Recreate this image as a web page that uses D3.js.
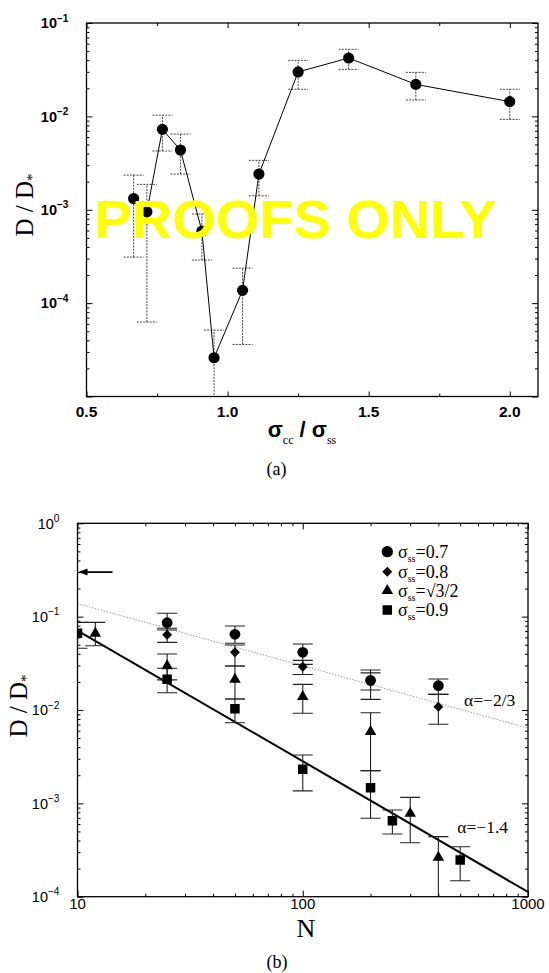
<!DOCTYPE html>
<html>
<head>
<meta charset="utf-8">
<script src="https://cdn.jsdelivr.net/npm/d3@7"></script>
<style>
  body { margin: 0; background: #fff; }
  svg { display: block; }
</style>
</head>
<body>
<svg id="fig" width="549" height="973"></svg>
<script>
// ---------- Panel (a): D/D* against the size ratio sigma_cc / sigma_ss ----------
const ratioA     = [0.667, 0.714, 0.769, 0.833, 0.909, 0.952, 1.053, 1.111, 1.25, 1.429, 1.667, 2.0];
const diffA      = [1.32e-3, 9.5e-4, 7.26e-3, 4.36e-3, 5.9e-4, 2.6e-5, 1.37e-4, 2.41e-3, 2.99e-2, 4.22e-2, 2.2e-2, 1.44e-2];
const diffAHigh  = [2.35e-3, 1.87e-3, 1.03e-2, 6.47e-3, 9.0e-4, 5.14e-5, 2.37e-4, 3.38e-3, 3.98e-2, 5.23e-2, 2.96e-2, 1.95e-2];
const diffALow   = [3.11e-4, 6.27e-5, 4.26e-3, 2.41e-3, 2.89e-4, 6e-6, 3.61e-5, 1.41e-3, 1.95e-2, 3.19e-2, 1.5e-2, 9.29e-3];
const ratioTicks      = [0.5, 1.0, 1.5, 2.0];
const ratioMinorTicks = [0.75, 1.25, 1.75];
const ratioTickLabels = ["0.5", "1.0", "1.5", "2.0"];
const decadeLabelsA   = [-1, -2, -3, -4];

// ---------- Panel (b): D/D* against system size N ----------
const nCircle   = [25, 50, 100, 200, 400];          // sigma_ss = 0.7
const dCircle   = [0.0861, 0.0647, 0.0415, 0.0208, 0.0182];
const loCircle  = [0.072, 0.0519, 0.0308, 0.0164, 0.0147];
const hiCircle  = [0.1086, 0.0794, 0.0509, 0.0268, 0.0215];

const nDiamond  = [25, 50, 100, 200, 400];          // sigma_ss = 0.8
const dDiamond  = [0.064, 0.0415, 0.0291, 0.0200, 0.01085];
const loDiamond = [0.053, 0.0296, 0.024, 0.013, 0.00703];
const hiDiamond = [0.075, 0.0497, 0.034, 0.025, 0.0147];

const nTriangle  = [12, 25, 50, 100, 200, 300, 400];   // sigma_ss = sqrt(3)/2
const dTriangle  = [0.0663, 0.0296, 0.0213, 0.0139, 0.00586, 0.000782, 0.000264];
const loTriangle = [0.0488, 0.021, 0.0131, 0.00922, 0.00224, 0.000379, 5e-5];
const hiTriangle = [0.0869, 0.0398, 0.0296, 0.0188, 0.00936, 0.00116, 0.00044];

const nSquare   = [10, 25, 50, 100, 200, 250, 500];    // sigma_ss = 0.9
const dSquare   = [0.0663, 0.0213, 0.0103, 0.00232, 0.00147, 0.000652, 0.000247];
const loSquare  = [0.0459, 0.0153, 0.00731, 0.00136, 0.000692, 0.00047, 0.000148];
const hiSquare  = [0.0869, 0.028, 0.0131, 0.0033, 0.00224, 0.000849, 0.000343];

const legendValues = ["0.7", "0.8", "\u221A3/2", "0.9"];
const legendShapes = ["circle", "diamond", "triangle", "square"];

// power-law guides D = D(10) * (N/10)^alpha
const fitAlpha     = [-1.4, -2 / 3];
const fitAt10      = [0.071, 0.138];
const fitLabels    = ["\u03B1=\u22121.4", "\u03B1=\u22122/3"];
const arrowLevel   = 0.3;
const arrowTailN   = 14.3;
const sizeTicks    = [10, 100, 1000];
const sizeTickLabels = ["10", "100", "1000"];
const decadeLabelsB = [0, -1, -2, -3, -4];

// ---------------------------------------------------------------
const svg = d3.select("#fig");
svg.append("rect").attr("width", 549).attr("height", 973).attr("fill", "#fff");

const SANS = "'Liberation Sans', Arial, Helvetica, sans-serif";
const SERIF = "'Liberation Serif', 'Times New Roman', serif";

const xA = d3.scaleLinear().domain([0.5, 2.1]).range([86.5, 538]);
const yA = d3.scaleLog().domain([1e-5, 1e-1]).range([396.5, 23]);
const xB = d3.scaleLog().domain([10, 1000]).range([77.5, 528]);
const yB = d3.scaleLog().domain([1e-4, 1]).range([896.7, 523.3]);

function logMajors(scale) {
  const [a, b] = scale.domain();
  const lo = Math.round(Math.log10(a)), hi = Math.round(Math.log10(b));
  return d3.range(lo, hi + 1).map(e => Math.pow(10, e));
}
function logMinors(scale) {
  const [a, b] = scale.domain();
  const lo = Math.round(Math.log10(a)), hi = Math.round(Math.log10(b));
  const out = [];
  for (let e = lo; e < hi; e++) for (let k = 2; k <= 9; k++) out.push(k * Math.pow(10, e));
  return out;
}

function drawFrame(g, x, y, xMaj, xMin, yMaj, yMin, xMajLen, yMajLen) {
  const [x0, x1] = x.range();
  const [y0, y1] = y.range();
  const add = (axis, t) => g.append("g").attr("transform", t).call(axis)
    .call(s => s.select(".domain").remove())
    .call(s => s.selectAll("line").attr("stroke", "#000").attr("stroke-width", 1));
  add(d3.axisBottom(x).tickValues(xMaj).tickSize(-xMajLen).tickFormat(""), `translate(0,${y0})`);
  add(d3.axisBottom(x).tickValues(xMin).tickSize(-3).tickFormat(""), `translate(0,${y0})`);
  add(d3.axisTop(x).tickValues(xMaj).tickSize(-xMajLen).tickFormat(""), `translate(0,${y1})`);
  add(d3.axisTop(x).tickValues(xMin).tickSize(-3).tickFormat(""), `translate(0,${y1})`);
  add(d3.axisLeft(y).tickValues(yMaj).tickSize(-yMajLen).tickFormat(""), `translate(${x0},0)`);
  add(d3.axisLeft(y).tickValues(yMin).tickSize(-3).tickFormat(""), `translate(${x0},0)`);
  add(d3.axisRight(y).tickValues(yMaj).tickSize(-yMajLen).tickFormat(""), `translate(${x1},0)`);
  add(d3.axisRight(y).tickValues(yMin).tickSize(-3).tickFormat(""), `translate(${x1},0)`);
  g.append("rect").attr("x", x0).attr("y", y1).attr("width", x1 - x0).attr("height", y0 - y1)
    .attr("fill", "none").attr("stroke", "#000").attr("stroke-width", 1.3);
}

function decadeLabels(g, y, exps, xRight, size, weight) {
  exps.forEach(e => {
    const t = g.append("text").attr("x", xRight).attr("y", y(Math.pow(10, e)) + size * 0.36)
      .attr("text-anchor", "end").attr("font-family", SANS).attr("font-size", size)
      .attr("font-weight", weight).attr("fill", "#000");
    t.append("tspan").text("10");
    t.append("tspan").attr("dy", -6.5).attr("font-size", size * 0.7)
      .text(e === 0 ? "0" : "\u2212" + (-e));
  });
}

function yTitle(g, cx, cy) {
  const t = g.append("text").attr("transform", `translate(${cx},${cy}) rotate(-90)`)
    .attr("text-anchor", "middle").attr("font-family", SERIF).attr("font-size", 25).attr("fill", "#000");
  t.append("tspan").text("D / D");
  t.append("tspan").attr("dy", 4).attr("font-size", 15).text("*");
}

// ================= Panel (a) =================
const gA = svg.append("g");
svg.append("clipPath").attr("id", "clipA").append("rect")
  .attr("x", 86.5).attr("y", 23).attr("width", 538 - 86.5).attr("height", 396.5 - 23);

drawFrame(gA, xA, yA, ratioTicks, ratioMinorTicks, logMajors(yA), logMinors(yA), 5, 6);

const ptsA = ratioA.map((r, i) => ({ x: r, d: diffA[i], lo: diffALow[i], hi: diffAHigh[i] }));
const plotA = gA.append("g").attr("clip-path", "url(#clipA)");

// dotted error bars
const ebA = plotA.append("g").attr("stroke", "#444").attr("stroke-width", 1).attr("stroke-dasharray", "2,1.2");
ptsA.forEach(p => {
  const cx = xA(p.x);
  ebA.append("line").attr("x1", cx).attr("x2", cx).attr("y1", yA(p.lo)).attr("y2", yA(p.hi));
  [p.lo, p.hi].forEach(v => ebA.append("line").attr("x1", cx - 10).attr("x2", cx + 10)
    .attr("y1", yA(v)).attr("y2", yA(v)));
});

plotA.append("path").datum(ptsA)
  .attr("d", d3.line().x(p => xA(p.x)).y(p => yA(p.d)))
  .attr("fill", "none").attr("stroke", "#000").attr("stroke-width", 1);

plotA.selectAll("circle.pt").data(ptsA).join("circle").attr("class", "pt")
  .attr("cx", p => xA(p.x)).attr("cy", p => yA(p.d)).attr("r", 5.6).attr("fill", "#000");

// tick labels
ratioTicks.forEach((v, i) => gA.append("text").attr("x", xA(v)).attr("y", 416.5)
  .attr("text-anchor", "middle").attr("font-family", SANS).attr("font-size", 15.5)
  .attr("font-weight", "bold").text(ratioTickLabels[i]));
decadeLabels(gA, yA, decadeLabelsA, 68.5, 14.5, "bold");

// axis titles
const xtA = gA.append("text").attr("x", 302).attr("y", 437).attr("text-anchor", "middle")
  .attr("font-family", SANS).attr("font-size", 22).attr("font-weight", "bold");
xtA.append("tspan").text("\u03C3");
xtA.append("tspan").attr("dy", 7).attr("font-family", SERIF).attr("font-weight", "normal").attr("font-size", 12).text("cc");
xtA.append("tspan").attr("dy", -7).text(" / \u03C3");
xtA.append("tspan").attr("dy", 7).attr("font-family", SERIF).attr("font-weight", "normal").attr("font-size", 12).text("ss");
yTitle(gA, 33, 205);

gA.append("text").attr("x", 276.5).attr("y", 475).attr("text-anchor", "middle")
  .attr("font-family", SERIF).attr("font-size", 18).text("(a)");

// watermark across panel (a)
gA.append("text").attr("x", 94.5).attr("y", 238.3)
  .attr("font-family", SANS).attr("font-size", 53).attr("font-weight", "bold")
  .attr("fill", "#ffff00").attr("textLength", 402).attr("lengthAdjust", "spacingAndGlyphs")
  .text("PROOFS ONLY");

// ================= Panel (b) =================
const gB = svg.append("g");
svg.append("clipPath").attr("id", "clipB").append("rect")
  .attr("x", 77.5).attr("y", 523.3).attr("width", 528 - 77.5).attr("height", 896.7 - 523.3);

const sizeMinor = logMinors(xB);
drawFrame(gB, xB, yB, sizeTicks, sizeMinor, logMajors(yB), logMinors(yB), 6, 6);

const plotB = gB.append("g").attr("clip-path", "url(#clipB)");

// power-law guide lines
const guideN = [10, 1000];
fitAlpha.forEach((a, i) => {
  const pts = guideN.map(n => [xB(n), yB(fitAt10[i] * Math.pow(n / 10, a))]);
  const path = plotB.append("path").attr("d", d3.line()(pts)).attr("fill", "none");
  if (i === 0) path.attr("stroke", "#000").attr("stroke-width", 2);
  else path.attr("stroke", "#999").attr("stroke-width", 1).attr("stroke-dasharray", "1.5,1.5");
});

const seriesB = [
  { shape: "circle",   n: nCircle,   d: dCircle,   lo: loCircle,   hi: hiCircle },
  { shape: "diamond",  n: nDiamond,  d: dDiamond,  lo: loDiamond,  hi: hiDiamond },
  { shape: "triangle", n: nTriangle, d: dTriangle, lo: loTriangle, hi: hiTriangle },
  { shape: "square",   n: nSquare,   d: dSquare,   lo: loSquare,   hi: hiSquare }
];

function marker(g, shape, cx, cy, scale) {
  const s = scale || 1;
  let sym;
  if (shape === "circle") sym = d3.symbol(d3.symbolCircle, Math.PI * 5.4 * 5.4 * s * s);
  else if (shape === "square") sym = d3.symbol(d3.symbolSquare, 9.5 * 9.5 * s * s);
  else if (shape === "triangle") sym = d3.symbol(d3.symbolTriangle, 11.5 * 11.5 * Math.sqrt(3) / 4 * s * s);
  else sym = d3.symbol(d3.symbolSquare, 7 * 7 * s * s);
  g.append("path").attr("d", sym())
    .attr("transform", `translate(${cx},${cy})` + (shape === "diamond" ? " rotate(45)" : ""))
    .attr("fill", "#000");
}

const ebB = plotB.append("g").attr("stroke", "#222").attr("stroke-width", 1.1);
seriesB.forEach(s => s.n.forEach((n, i) => {
  const cx = xB(n);
  ebB.append("line").attr("x1", cx).attr("x2", cx).attr("y1", yB(s.lo[i])).attr("y2", yB(s.hi[i]));
  [s.lo[i], s.hi[i]].forEach(v => ebB.append("line").attr("x1", cx - 10).attr("x2", cx + 10)
    .attr("y1", yB(v)).attr("y2", yB(v)));
}));
seriesB.forEach(s => s.n.forEach((n, i) => marker(plotB, s.shape, xB(n), yB(s.d[i]))));

// arrow marking the reference level
const ay = yB(arrowLevel);
gB.append("line").attr("x1", xB(arrowTailN)).attr("x2", xB(10) + 6).attr("y1", ay).attr("y2", ay)
  .attr("stroke", "#000").attr("stroke-width", 1.8);
gB.append("path").attr("d", `M${xB(10) + 1},${ay} l9,-3.5 l0,7 z`).attr("fill", "#000");

// legend
const legendRows = [551.7, 571.7, 590.7, 610];
legendShapes.forEach((shape, i) => {
  marker(gB, shape, 387.3, legendRows[i], shape === "circle" ? 1.05 : 1);
  const t = gB.append("text").attr("x", 398).attr("y", legendRows[i] + 6)
    .attr("font-family", SERIF).attr("font-size", 18);
  t.append("tspan").text("\u03C3");
  t.append("tspan").attr("dy", 4).attr("font-size", 10).text("ss");
  t.append("tspan").attr("dy", -4).text("=" + legendValues[i]);
});

// guide labels
gB.append("text").attr("x", 457.3).attr("y", 833).attr("font-family", SERIF).attr("font-size", 17.5).text(fitLabels[0]);
gB.append("text").attr("x", 464).attr("y", 706).attr("font-family", SERIF).attr("font-size", 17.5).text(fitLabels[1]);

// tick labels
sizeTicks.forEach((v, i) => gB.append("text").attr("x", xB(v)).attr("y", 909)
  .attr("text-anchor", "middle").attr("font-family", SANS).attr("font-size", 15).text(sizeTickLabels[i]));
decadeLabels(gB, yB, decadeLabelsB, 59.5, 14.5, "normal");

// axis titles
gB.append("text").attr("x", 306).attr("y", 937).attr("text-anchor", "middle")
  .attr("font-family", SERIF).attr("font-size", 26).text("N");
yTitle(gB, 27, 706);
gB.append("text").attr("x", 277).attr("y", 968).attr("text-anchor", "middle")
  .attr("font-family", SERIF).attr("font-size", 18).text("(b)");
</script>
</body>
</html>
